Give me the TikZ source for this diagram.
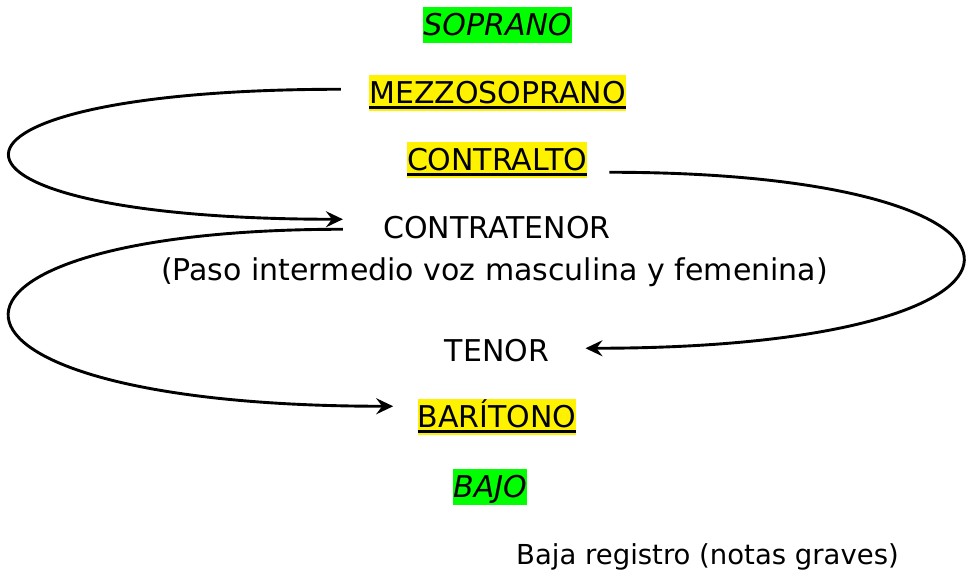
\documentclass[tikz,border=0pt]{standalone}
\usepackage{fontspec}
\setmainfont{DejaVu Sans}
\usetikzlibrary{arrows.meta,%
                positioning}
\newcommand{\voiceline}[1]{\setbox0\hbox{#1}\rlap{\rule[-6pt]{\wd0}{2.7pt}}\box0}

\begin{document}
\begin{tikzpicture}[x=1pt,y=-1pt,style=thick]
\tikzstyle{voice}=[anchor=base,inner xsep=0pt,inner ysep=0pt,text height=28pt,text depth=7.5pt,font=\fontsize{30}{36}\selectfont]
\tikzstyle{hlgreen}=[voice,fill=green]
\tikzstyle{hlyellow}=[voice,fill=yellow]
\tikzstyle{edge} = [draw,line width=2.9pt,-{Stealth[length=17pt,width=16pt,inset=6pt]}]

\useasboundingbox (0,0) rectangle (966,574);

\draw (497.5,35) node[hlgreen] (soprano) {\textit{SOPRANO}};
\draw (497.5,103) node[hlyellow] (mezzo) {\voiceline{MEZZOSOPRANO}};
\draw (497,170) node[hlyellow] (contralto) {\voiceline{CONTRALTO}};
\draw (497,238) node[voice] (contratenor) {CONTRATENOR};
\draw (494.5,280) node[voice] (paso) {(Paso intermedio voz masculina y femenina)};
\draw (497,361) node[voice] (tenor) {TENOR};
\draw (497,427) node[hlyellow] (baritono) {\voiceline{BARÍTONO}};
\draw (490,497) node[hlgreen] (bajo) {\textit{BAJO}};
\draw (707.5,564) node[voice,font=\fontsize{27.5}{33}\selectfont] (baja) {Baja registro (notas graves)};

\path[edge] ([xshift=-28pt,yshift=3.5pt]mezzo.west) .. controls +(-443,0) and +(-443,0) .. ([xshift=-40pt,yshift=8.5pt]contratenor.west);
\path[edge] ([xshift=-40pt,yshift=-1.5pt]contratenor.west) .. controls +(-454,0) and +(-502,0) .. ([xshift=-24pt,yshift=10.5pt]baritono.west);
\path[edge] ([xshift=22pt,yshift=-12.5pt]contralto.east) .. controls +(475,0) and +(500,0) .. ([xshift=36pt,yshift=2.5pt]tenor.east);
\end{tikzpicture}
\end{document}
